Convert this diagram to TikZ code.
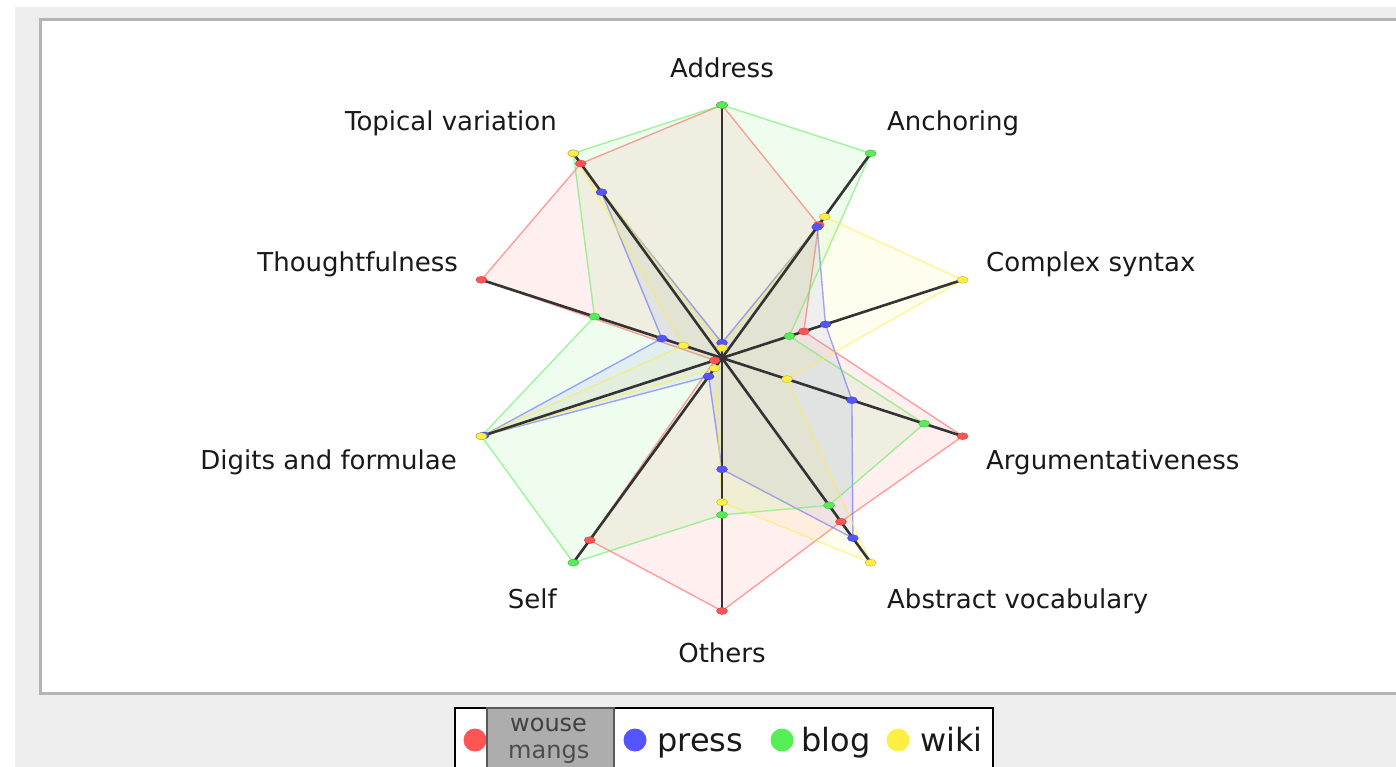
\documentclass[tikz,border=0pt]{standalone}
\usepackage{fontspec}
\setmainfont{DejaVu Sans}
\usetikzlibrary{shapes.geometric}

\definecolor{serred}{HTML}{FF5555}
\definecolor{serblue}{HTML}{5555FF}
\definecolor{sergreen}{HTML}{55EE55}
\definecolor{seryellow}{HTML}{FFEE44}
\definecolor{framegray}{HTML}{EEEEEE}
\definecolor{edgegray}{HTML}{B4B4B4}

\tikzset{
    axisline/.style={line width=2.6pt, draw=black!80},
    web/.style={line width=1.4pt, draw=#1, draw opacity=0.55, fill=#1, fill opacity=0.09},
    dot/.style={ellipse, fill=#1, draw=#1!70!black, line width=0.3pt, minimum width=11pt, minimum height=7pt, inner sep=0pt},
    axislabel/.style={font=\fontsize{26}{30}\selectfont, text=black!90, inner sep=0pt},
    keylabel/.style={font=\fontsize{32}{36}\selectfont, text=black!90, inner sep=0pt, anchor=base west},
    keydot/.style={circle, fill=#1, minimum size=23pt, inner sep=0pt}
}

\begin{document}
\begin{tikzpicture}[x=1pt, y=-1pt]
    \useasboundingbox (0,0) rectangle (1396,767);
    \clip (0,0) rectangle (1396,767);

    % Window background and chart panel
    \fill[framegray] (15,7) rectangle (1400,770);
    \draw[edgegray, line width=3pt, fill=white] (40,20) rectangle (1410,693);

    % Define the radius and the centre of the web
    \def\R{253}
    \begin{scope}[shift={(722,358)}]
        \coordinate (C) at (0,0);

        % Axis end points, clockwise from the top
        \foreach \k in {0,...,9}
            \coordinate (ax\k) at ({36*\k-90}:\R);

        % Series values (fraction of the axis)
        \foreach \col/\vals in {
            serred/{1.0,0.65,0.34,1.0,0.80,1.0,0.89,0.03,1.0,0.95},
            serblue/{0.06,0.64,0.43,0.54,0.88,0.44,0.09,0.99,0.25,0.81},
            sergreen/{1.0,1.0,0.28,0.84,0.72,0.62,1.0,1.0,0.53,1.0},
            seryellow/{0.04,0.69,1.0,0.27,1.0,0.57,0.05,1.0,0.16,1.0}}{
            \foreach \v [count=\k from 0] in \vals
                \coordinate (\col-\k) at ({36*\k-90}:{\v*\R});
            \draw[web=\col] (\col-0) -- (\col-1) -- (\col-2) -- (\col-3) -- (\col-4)
                -- (\col-5) -- (\col-6) -- (\col-7) -- (\col-8) -- (\col-9) -- cycle;
        }

        % Axes
        \foreach \k in {0,...,9}
            \draw[axisline] (C) -- (ax\k);

        % Markers
        \foreach \col in {serred,serblue,sergreen,seryellow}
            \foreach \k in {0,...,9}
                \node[dot=\col] (m-\col-\k) at (\col-\k) {};
    \end{scope}

    % Axis labels
    \node[axislabel, anchor=base] (lab0) at (722,78) {Address};
    \node[axislabel, anchor=base west] (lab1) at (887,131) {Anchoring};
    \node[axislabel, anchor=base west] (lab2) at (986,271) {Complex syntax};
    \node[axislabel, anchor=base west] (lab3) at (986,469) {Argumentativeness};
    \node[axislabel, anchor=base west] (lab4) at (887,608) {Abstract vocabulary};
    \node[axislabel, anchor=base] (lab5) at (722,662) {Others};
    \node[axislabel, anchor=base east] (lab6) at (557,608) {Self};
    \node[axislabel, anchor=base east] (lab7) at (457,469) {Digits and formulae};
    \node[axislabel, anchor=base east] (lab8) at (458,271) {Thoughtfulness};
    \node[axislabel, anchor=base east] (lab9) at (557,131) {Topical variation};

    % Legend
    \draw[black, line width=1.5pt, fill=white] (455,708) rectangle (993,775);
    \node[keydot=serred] (kred) at (475,740) {};
    \node[keydot=serblue] (kblue) at (635,740) {};
    \node[keylabel] (tblue) at (657,751) {press};
    \node[keydot=sergreen] (kgreen) at (782,740) {};
    \node[keylabel] (tgreen) at (801,751) {blog};
    \node[keydot=seryellow] (kyellow) at (898,740) {};
    \node[keylabel] (tyellow) at (920,751) {wiki};

    % Tooltip over the first entry
    \draw[draw=black!65, line width=1.2pt, fill=black!32] (487,708) rectangle (614,775);
    \node[keylabel, text=black!75, font=\fontsize{24}{28}\selectfont] (tipa) at (510,731) {wouse};
    \node[keylabel, text=black!70, font=\fontsize{24}{28}\selectfont] (tipb) at (508,758) {mangs};
\end{tikzpicture}
\end{document}
